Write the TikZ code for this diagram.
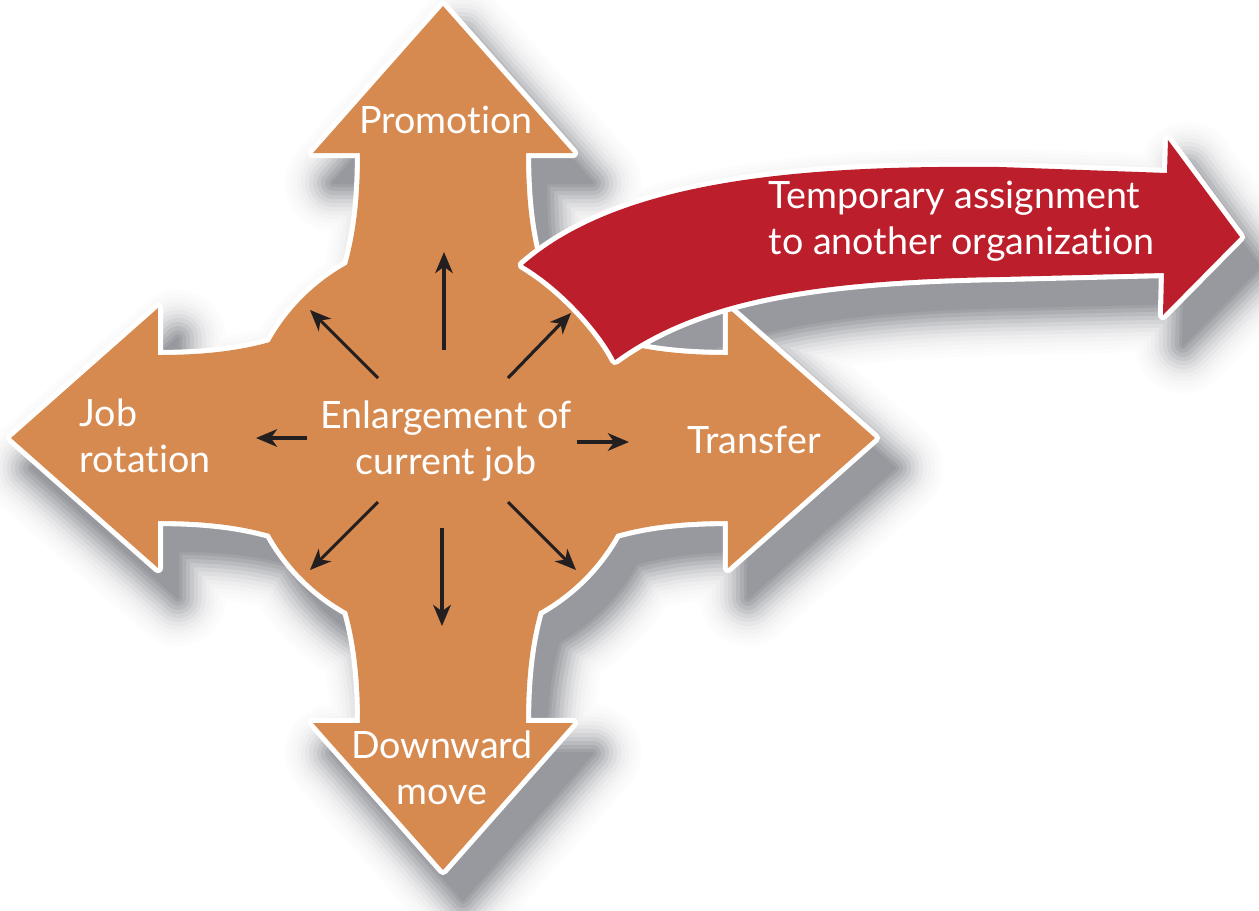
\documentclass[tikz,border=0pt]{standalone}
\usepackage{fontspec}
\setmainfont{Lato}[Ligatures={NoCommon}]
\usetikzlibrary{arrows.meta}

\definecolor{orangefill}{RGB}{214,138,80}
\definecolor{redfill}{RGB}{189,30,43}
\definecolor{shc}{RGB}{122,124,131}
\definecolor{ink}{RGB}{35,31,32}

% one arm of the cross, pointing along +x, relative to the hub centre
\def\armpath{(140,-100) -- (173,-96) .. controls (205,-87) and (240,-83) .. (285,-83)
  -- (285,-130) -- (432,0) -- (285,130) -- (285,83)
  .. controls (240,83) and (205,87) .. (173,96) -- (140,100) -- cycle}

% the curved red arrow
\def\redpath{(523,265) .. controls (620,180) and (800,165) .. (1000,167)
  -- (1167,173) -- (1168,140) -- (1240,237) -- (1163,315) -- (1164,273)
  -- (1000,277) .. controls (820,280) and (700,298) .. (615,360)
  .. controls (602,334) and (565,290) .. (523,265) -- cycle}

% hub disc plus the four arms, all drawn with the style given
\newcommand\crosspieces[1]{%
  \path[#1] (443,438) circle[radius=1.98cm];
  \foreach \ang in {0,90,180,270}{\path[#1, shift={(443,438)}, rotate=\ang] \armpath;}%
}

\tikzset{
  lbl/.style={text=white, font=\fontsize{10.7}{13.2}\selectfont, align=center, inner sep=0pt},
  smallarrow/.style={draw=ink, line width=0.9pt, -{Stealth[length=6pt, width=5pt, inset=1.8pt]}},
}

\begin{document}
\begin{tikzpicture}[x=0.01cm, y=-0.01cm]
\useasboundingbox (0,0) rectangle (1259,911);

% soft drop shadow, built from opaque rings that darken towards the shape
\begin{scope}[shift={(20,30)}]
\foreach \d/\p in {48/2,44/4,40/6,36/9,32/13,28/18,24/25,20/33,16/42,12/52,8/62,4/71,1/78}{
  \tikzset{shl/.style={fill=shc!\p!white, draw=shc!\p!white, line width=2*\d*0.2845pt, line join=round}}
  \crosspieces{shl}
  \path[shl] \redpath;
}
\end{scope}

% orange cross with its white rim
\crosspieces{draw=white, line width=2.9pt, line join=round}
\crosspieces{fill=orangefill}

% red arrow with its white rim
\path[draw=white, line width=2.9pt, line join=round] \redpath;
\path[fill=redfill] \redpath;

% the eight small arrows radiating from the centre
\foreach \n/\sx/\sy/\ex/\ey in {
  u/444/350/444/252, ul/378/378/310/310, ur/508/378/571/313,
  l/307/438/256/438, r/577/442/629/442,
  dl/378/502/310/570, d/442/528/442/626, dr/508/502/576/570}{
  \coordinate (s\n) at (\sx,\sy);
  \coordinate (e\n) at (\ex,\ey);
  \draw[smallarrow] (s\n) -- (e\n);
}

% labels
\node[lbl] (promo) at (446,120) {Promotion};
\node[lbl, align=left, anchor=west] (temp) at (768,221) {Temporary assignment\\to another organization};
\node[lbl] (enl) at (446,441) {Enlargement of\\current job};
\node[lbl, align=left, anchor=west] (jobrot) at (79,436) {Job\\rotation};
\node[lbl] (transfer) at (754,440) {Transfer};
\node[lbl] (down) at (442,768) {Downward\\move};
\end{tikzpicture}
\end{document}
